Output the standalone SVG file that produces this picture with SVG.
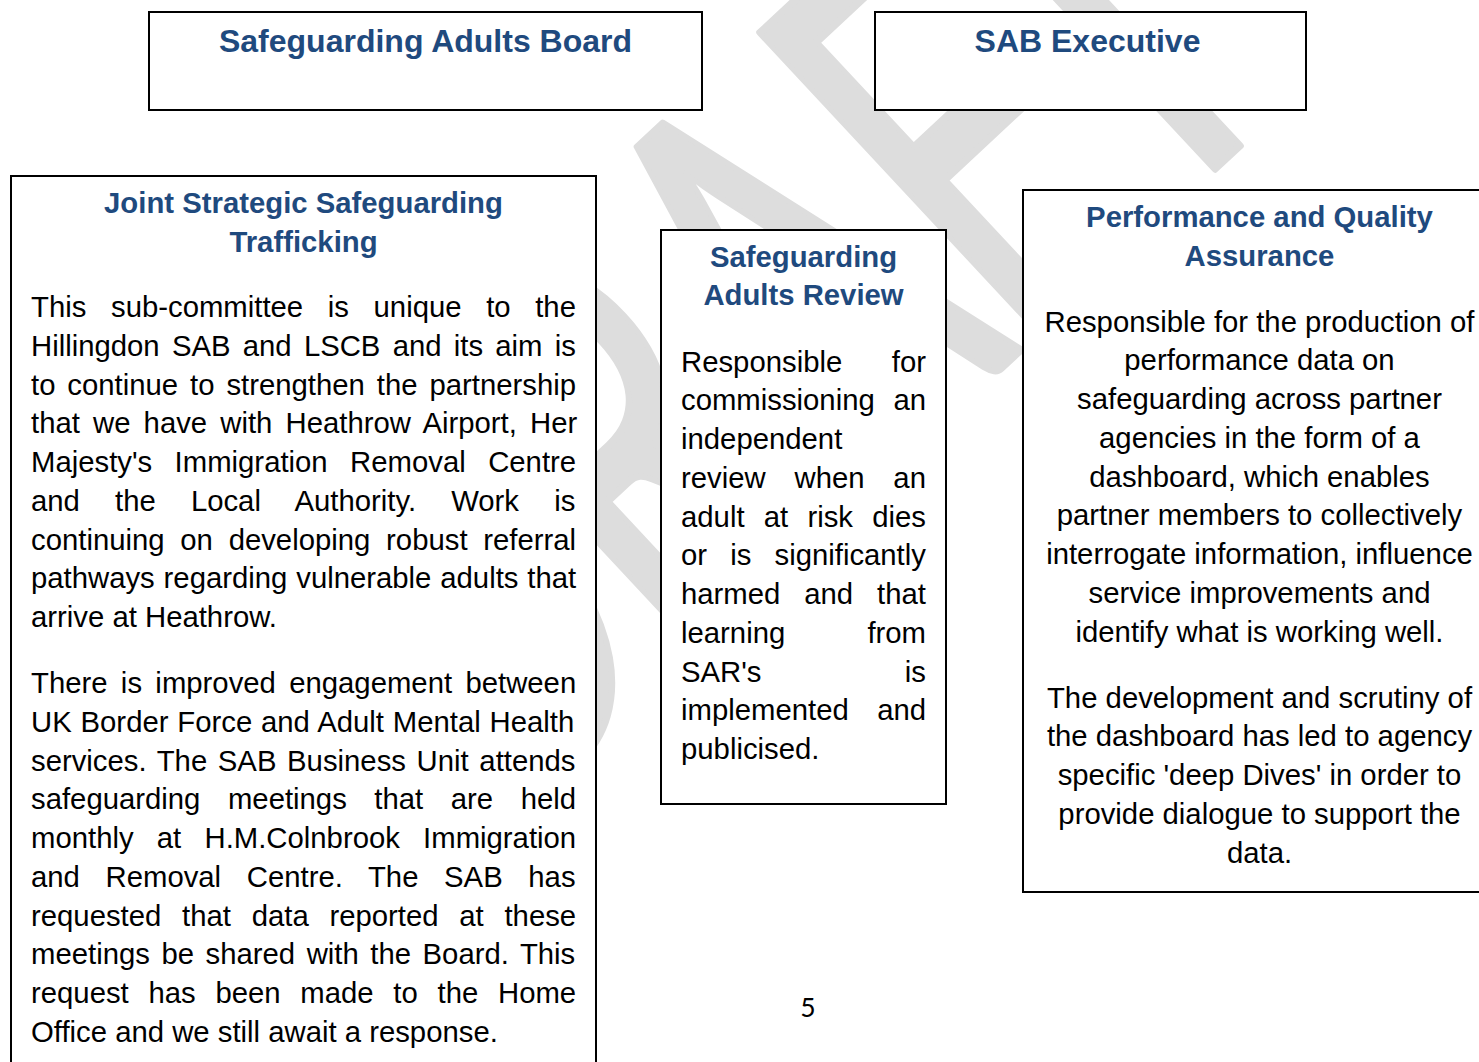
<svg xmlns="http://www.w3.org/2000/svg" width="1479" height="1062" viewBox="0 0 1479 1062">
<style>
.box{fill:#fff;stroke:#000;stroke-width:2}
.t{font-family:"Liberation Sans",Arial,sans-serif;font-weight:bold;fill:#1f4a7e;text-anchor:middle}
.t32{font-size:32px}
.t29{font-size:29.3px}
.b{font-family:"Liberation Sans",Arial,sans-serif;font-size:29.3px;fill:#000}
.c{text-anchor:middle}
.wm{font-family:Lato,"Open Sans",sans-serif;font-size:375px;fill:#dddddd;stroke:#dddddd;stroke-width:5;stroke-linejoin:round;text-anchor:middle}
.pg{font-family:Lato,"Open Sans",sans-serif;font-size:26.5px;fill:#000;text-anchor:middle}
</style>
<rect width="1479" height="1062" fill="#fff"/>
<g id="watermark" transform="translate(650,135) rotate(-43) scale(1,1.525)">
<text class="wm" x="-473 -233 0 221 407" y="268.9">DRAFT</text>
</g>
<g id="connectors"/>
<g id="sab">
<rect class="box" x="149" y="12" width="553" height="98"/>
<text class="t t32" x="425.5" y="52">Safeguarding Adults Board</text>
</g>
<g id="sab-executive">
<rect class="box" x="875" y="12" width="431" height="98"/>
<text class="t t32" x="1087.5" y="52">SAB Executive</text>
</g>
<g id="jsst">
<rect class="box" x="11" y="176" width="585" height="900"/>
<text class="t t29" x="303.5" y="213">Joint Strategic Safeguarding</text>
<text class="t t29" x="303.5" y="252">Trafficking</text>
<text class="b" x="31" y="317" word-spacing="16.5">This sub-committee is unique to the</text>
<text class="b" x="31" y="355.75" word-spacing="4.1">Hillingdon SAB and LSCB and its aim is</text>
<text class="b" x="31" y="394.5" word-spacing="3.8">to continue to strengthen the partnership</text>
<text class="b" x="31" y="433.25" word-spacing="5">that we have with Heathrow Airport, Her</text>
<text class="b" x="31" y="472" word-spacing="14.3">Majesty's Immigration Removal Centre</text>
<text class="b" x="31" y="510.75" word-spacing="27">and the Local Authority. Work is</text>
<text class="b" x="31" y="549.5" word-spacing="7.6">continuing on developing robust referral</text>
<text class="b" x="31" y="588.25" word-spacing="0.7">pathways regarding vulnerable adults that</text>
<text class="b" x="31" y="627">arrive at Heathrow.</text>
<text class="b" x="31" y="693" word-spacing="5.2">There is improved engagement between</text>
<text class="b" x="31" y="731.75" word-spacing="0.7">UK Border Force and Adult Mental Health</text>
<text class="b" x="31" y="770.5" word-spacing="2.5">services. The SAB Business Unit attends</text>
<text class="b" x="31" y="809.25" word-spacing="19.4">safeguarding meetings that are held</text>
<text class="b" x="31" y="848" word-spacing="15.1">monthly at H.M.Colnbrook Immigration</text>
<text class="b" x="31" y="886.75" word-spacing="17.5">and Removal Centre. The SAB has</text>
<text class="b" x="31" y="925.5" word-spacing="12.6">requested that data reported at these</text>
<text class="b" x="31" y="964.25" word-spacing="3.4">meetings be shared with the Board. This</text>
<text class="b" x="31" y="1003" word-spacing="11.6">request has been made to the Home</text>
<text class="b" x="31" y="1041.75">Office and we still await a response.</text>
</g>
<g id="sar">
<rect class="box" x="661" y="230" width="285" height="574"/>
<text class="t t29" x="803.5" y="267">Safeguarding</text>
<text class="t t29" x="803.5" y="305">Adults Review</text>
<text class="b" x="681" y="371.7" word-spacing="41.5">Responsible for</text>
<text class="b" x="681" y="410.45" word-spacing="10.5">commissioning an</text>
<text class="b" x="681" y="449.2">independent</text>
<text class="b" x="681" y="487.95" word-spacing="20.7">review when an</text>
<text class="b" x="681" y="526.7" word-spacing="11.1">adult at risk dies</text>
<text class="b" x="681" y="565.45" word-spacing="15">or is significantly</text>
<text class="b" x="681" y="604.2" word-spacing="15.8">harmed and that</text>
<text class="b" x="681" y="642.95" word-spacing="74">learning from</text>
<text class="b" x="681" y="681.7" word-spacing="135.2">SAR's is</text>
<text class="b" x="681" y="720.45" word-spacing="20.3">implemented and</text>
<text class="b" x="681" y="759.2">publicised.</text>
</g>
<g id="performance-quality">
<rect class="box" x="1023" y="190" width="473" height="702"/>
<text class="t t29" x="1259.5" y="226.7">Performance and Quality</text>
<text class="t t29" x="1259.5" y="265.5">Assurance</text>
<text class="b c" x="1259.5" y="331.7">Responsible for the production of</text>
<text class="b c" x="1259.5" y="370.45">performance data on</text>
<text class="b c" x="1259.5" y="409.2">safeguarding across partner</text>
<text class="b c" x="1259.5" y="447.95">agencies in the form of a</text>
<text class="b c" x="1259.5" y="486.7">dashboard, which enables</text>
<text class="b c" x="1259.5" y="525.45">partner members to collectively</text>
<text class="b c" x="1259.5" y="564.2">interrogate information, influence</text>
<text class="b c" x="1259.5" y="602.95">service improvements and</text>
<text class="b c" x="1259.5" y="641.7">identify what is working well.</text>
<text class="b c" x="1259.5" y="707.5">The development and scrutiny of</text>
<text class="b c" x="1259.5" y="746.25">the dashboard has led to agency</text>
<text class="b c" x="1259.5" y="785">specific 'deep Dives' in order to</text>
<text class="b c" x="1259.5" y="823.75">provide dialogue to support the</text>
<text class="b c" x="1259.5" y="862.5">data.</text>
</g>
<text class="pg" x="808" y="1017">5</text>
</svg>
